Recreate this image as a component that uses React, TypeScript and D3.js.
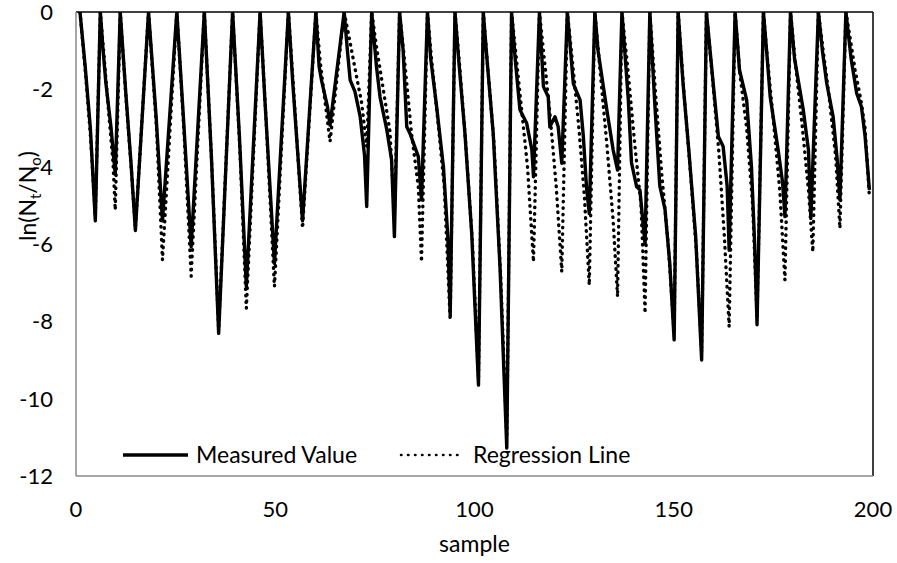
import React from "react";
import * as d3 from "d3";

const xTicks = [0, 50, 100, 150, 200];
const yTicks = [0, -2, -4, -6, -8, -10, -12];

const measuredX = [
  1.0, 2.3, 3.6, 4.85,
  6.1, 6.8, 7.5, 8.8, 9.85,
  11.1, 12.5, 13.8, 14.9,
  18.2, 20.1, 21.7,
  25.3, 27.0, 28.9,
  32.2, 34.0, 35.8,
  39.3, 41.0, 42.75,
  46.2, 47.4, 49.8,
  53.3, 54.4, 56.85,
  60.2, 61.0, 61.6, 63.1, 63.75,
  67.3, 68.1, 68.8, 70.0, 71.3, 72.4, 72.95,
  74.2, 75.4, 76.3, 78.0, 79.2, 79.9,
  81.2, 82.1, 83.0, 83.8, 85.9, 86.7,
  88.2, 89.0, 90.5, 92.2, 93.3, 93.9,
  95.1, 96.0, 97.6, 99.3, 101.0,
  102.2, 103.2, 104.7, 106.4, 108.1,
  109.3, 110.2, 111.4, 113.1, 114.4, 114.8,
  116.3, 117.3, 118.5, 118.9, 120.2, 121.0, 121.9,
  123.3, 124.8, 126.5, 127.3, 128.1, 128.8,
  130.2, 131.0, 133.2, 134.8, 135.9,
  137.0, 138.6, 139.4, 140.7, 141.5, 141.9, 142.8,
  144.0, 145.2, 146.5, 147.8, 149.0, 150.1,
  151.1, 152.3, 153.8, 155.5, 157.0,
  158.2, 159.9, 161.2, 162.4, 163.4, 163.9,
  165.4, 166.5, 168.3, 169.5, 170.3, 170.9,
  172.5, 173.3, 174.2, 176.2, 177.3, 177.9,
  179.3, 180.3, 182.5, 183.8, 184.4,
  186.3, 187.3, 188.4, 190.0, 191.0, 191.7,
  193.2, 194.5, 195.9, 197.1, 198.0, 199.1,
];
const measuredY = [
  0, -1.4, -3.0, -5.4,
  0, -1.0, -1.84, -3.0, -4.2,
  0, -2.1, -3.9, -5.65,
  0, -2.7, -5.4,
  0, -2.8, -6.07,
  0, -3.8, -8.31,
  0, -3.2, -7.1,
  0, -2.27, -6.5,
  0, -1.84, -5.4,
  0, -1.41, -1.76, -2.45, -2.93,
  0, -0.99, -1.76, -2.06, -2.7, -3.7, -5.03,
  0, -1.41, -2.2, -3.05, -3.83, -5.81,
  0, -1.0, -2.97, -3.14, -3.74, -4.86,
  0, -1.2, -2.45, -4.0, -5.8, -7.84,
  0, -1.2, -3.14, -5.72, -9.65,
  0, -1.3, -3.14, -6.59, -11.28,
  0, -1.2, -2.53, -2.88, -3.57, -4.26,
  0, -1.93, -2.19, -2.97, -2.71, -2.97, -3.91,
  0, -1.85, -2.28, -3.2, -4.52, -5.21,
  0, -1.0, -2.53, -3.57, -4.09,
  0, -2.28, -3.9, -4.52, -4.6, -5.03, -6.0,
  0, -2.3, -4.5, -5.1, -6.5, -8.48,
  0, -1.8, -3.6, -5.8, -9.0,
  0, -1.85, -3.22, -3.48, -4.5, -6.16,
  0, -1.5, -2.28, -4.0, -6.0, -8.09,
  0, -1.0, -2.19, -3.57, -4.4, -5.29,
  0, -1.2, -2.53, -3.57, -5.34,
  0, -1.0, -1.85, -2.71, -3.8, -4.86,
  0, -1.2, -2.1, -2.45, -3.2, -4.6,
];

const regressionX = [
  1.0, 2.4, 3.7, 4.85,
  6.1, 7.0, 8.2, 9.3, 9.85,
  11.1, 12.6, 13.9, 14.9,
  18.2, 20.2, 21.7,
  25.3, 27.1, 28.9,
  32.2, 34.1, 35.8,
  39.3, 41.1, 42.75,
  46.2, 47.6, 49.8,
  53.3, 54.6, 56.85,
  60.2, 61.3, 62.6, 63.75,
  67.3, 68.8, 70.4, 71.7, 72.95,
  74.2, 75.4, 77.1, 78.8, 79.9,
  81.2, 82.6, 84.2, 85.9, 86.7,
  88.2, 89.2, 90.8, 92.4, 93.9,
  95.1, 96.2, 97.8, 99.5, 101.0,
  102.2, 103.3, 104.9, 106.6, 108.1,
  109.3, 110.3, 111.8, 113.3, 114.8,
  116.3, 117.5, 119.0, 120.5, 121.9,
  123.3, 124.6, 126.2, 127.6, 128.8,
  130.2, 131.5, 133.2, 134.8, 135.9,
  137.0, 138.5, 140.2, 141.8, 142.8,
  144.0, 145.5, 147.0, 148.6, 150.1,
  151.1, 152.5, 154.0, 155.7, 157.0,
  158.2, 159.8, 161.3, 162.7, 163.9,
  165.4, 166.6, 168.3, 169.8, 170.9,
  172.5, 173.5, 175.0, 176.6, 177.9,
  179.3, 180.5, 182.3, 183.8, 184.9,
  186.3, 187.5, 189.0, 190.6, 191.7,
  193.2, 194.3, 195.5, 197.0, 198.0, 199.1,
];
const regressionY = [
  0, -1.6, -3.3, -5.3,
  0, -1.1, -2.6, -3.9, -5.12,
  0, -2.3, -4.1, -5.6,
  0, -3.0, -6.41,
  0, -3.1, -6.83,
  0, -4.0, -8.2,
  0, -3.5, -7.66,
  0, -2.6, -7.1,
  0, -2.0, -5.59,
  0, -1.3, -2.4, -3.35,
  0, -0.8, -1.67, -2.36, -3.48,
  0, -0.9, -2.0, -3.1, -5.3,
  0, -1.41, -3.14, -4.52, -6.46,
  0, -1.2, -2.8, -4.5, -7.97,
  0, -1.3, -3.4, -6.0, -9.5,
  0, -1.4, -3.4, -6.9, -11.0,
  0, -1.0, -2.5, -4.0, -6.46,
  0, -1.2, -2.7, -4.5, -6.72,
  0, -1.3, -3.0, -4.8, -7.06,
  0, -1.5, -3.4, -5.4, -7.36,
  0, -1.5, -3.4, -5.0, -7.79,
  0, -2.2, -4.2, -6.0, -8.3,
  0, -2.0, -3.9, -6.2, -8.8,
  0, -1.8, -3.6, -5.8, -8.14,
  0, -1.6, -3.0, -5.0, -7.9,
  0, -1.2, -2.8, -4.6, -6.93,
  0, -1.3, -3.0, -4.6, -6.2,
  0, -1.0, -2.2, -3.7, -5.59,
  0, -0.7, -1.5, -2.3, -3.0, -4.78,
];

const W = 897;
const H = 563;
const plot = { left: 76, right: 873, top: 12, bottom: 476 };
const FONT = "Lato, 'Open Sans', sans-serif";

export default function App() {
  const x = d3.scaleLinear().domain([0, 200]).range([plot.left, plot.right]);
  const y = d3.scaleLinear().domain([-12, 0]).range([plot.bottom, plot.top]);
  const line = d3
    .line<[number, number]>()
    .x((d) => x(d[0]))
    .y((d) => y(d[1]))
    .curve(d3.curveLinear);
  const measured = measuredX.map((v, i) => [v, measuredY[i]] as [number, number]);
  const regression = regressionX.map((v, i) => [v, regressionY[i]] as [number, number]);

  return (
    <svg
      width={W}
      height={H}
      style={{ position: "absolute", left: 0, top: 0, background: "#fff" }}
      fontFamily={FONT}
    >
      <defs>
        <clipPath id="plotClip">
          <rect x={plot.left} y={plot.top} width={plot.right - plot.left} height={plot.bottom - plot.top} />
        </clipPath>
      </defs>
      <rect x={0} y={0} width={W} height={H} fill="#fff" />
      <g clipPath="url(#plotClip)">
        <path d={line(measured) || ""} fill="none" stroke="#000" strokeWidth={3.4} strokeLinejoin="round" />
        <path
          d={line(regression) || ""}
          fill="none"
          stroke="#000"
          strokeWidth={3.4}
          strokeDasharray="0.5 6"
          strokeLinecap="round"
          strokeLinejoin="round"
        />
      </g>
      {/* frame */}
      <line x1={plot.left} x2={plot.right} y1={plot.top} y2={plot.top} stroke="#000" strokeWidth={1.5} />
      <line x1={plot.right} x2={plot.right} y1={plot.top} y2={plot.bottom} stroke="#000" strokeWidth={1.5} />
      <line x1={plot.left} x2={plot.left} y1={plot.top} y2={plot.bottom} stroke="#898989" strokeWidth={1.5} />
      <line x1={plot.left} x2={plot.right} y1={plot.bottom} y2={plot.bottom} stroke="#898989" strokeWidth={1.5} />
      {/* y ticks */}
      {yTicks.map((t) => (
        <text key={t} x={53} y={y(t)} dy="0.36em" textAnchor="end" fontSize={22} fill="#000">
          {t}
        </text>
      ))}
      {/* x ticks */}
      {xTicks.map((t) => (
        <text key={t} x={x(t)} y={517} textAnchor="middle" fontSize={22} fill="#000">
          {t}
        </text>
      ))}
      <text x={(plot.left + plot.right) / 2} y={552} textAnchor="middle" fontSize={23} fill="#000">
        sample
      </text>
      <text transform="translate(36,196) rotate(-90)" textAnchor="middle" fontSize={23} fill="#000">
        ln(N<tspan fontSize={15} dy={5}>t</tspan>
        <tspan dy={-5}>/N</tspan>
        <tspan fontSize={15} dy={5}>o</tspan>
        <tspan dy={-5}>)</tspan>
      </text>
      {/* legend */}
      <line x1={123} x2={188} y1={455} y2={455} stroke="#000" strokeWidth={3.4} />
      <text x={196} y={463} fontSize={23} fill="#000">
        Measured Value
      </text>
      <line
        x1={401}
        x2={464}
        y1={455}
        y2={455}
        stroke="#000"
        strokeWidth={2.5}
        strokeDasharray="0.5 6.5"
        strokeLinecap="round"
      />
      <text x={473} y={463} fontSize={23} fill="#000">
        Regression Line
      </text>
    </svg>
  );
}
